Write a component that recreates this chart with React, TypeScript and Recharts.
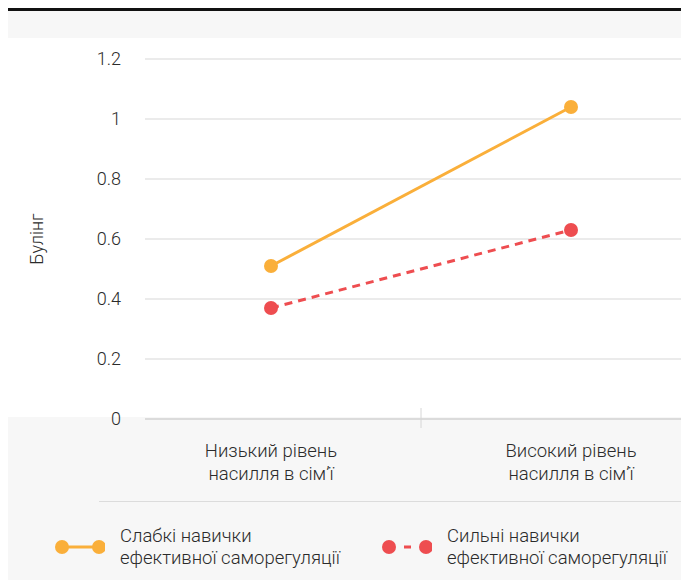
import React from "react";
import {
  LineChart,
  Line,
  XAxis,
  YAxis,
  CartesianGrid,
  Legend,
} from "recharts";

// categories on the x axis (two-line labels)
const categoryLabels: string[][] = [
  ["Низький рівень", "насилля в сім’ї"],
  ["Високий рівень", "насилля в сім’ї"],
];
const categoryPos = [0, 1];

const weakSkills = [0.51, 1.04];
const strongSkills = [0.37, 0.63];

const yTicks = [0, 0.2, 0.4, 0.6, 0.8, 1, 1.2];

const seriesNames = {
  weak: ["Слабкі навички", "ефективної саморегуляції"],
  strong: ["Сильні навички", "ефективної саморегуляції"],
};

const ORANGE = "#FAAF3A";
const RED = "#EE4D50";
const FONT = "Roboto, 'Noto Sans', sans-serif";
const TEXT = "#2b2b2b";
const FS = 18.5;
const FW = 300;

const data = categoryPos.map((x, i) => ({
  x,
  weak: weakSkills[i],
  strong: strongSkills[i],
}));

function XTick(props: any) {
  const { x, y, payload } = props;
  if (payload.value === 0.5) {
    return <line x1={x} x2={x} y1={y - 11} y2={y + 9} stroke="#d6d6d6" strokeWidth={1} />;
  }
  const idx = categoryPos.indexOf(payload.value);
  const lines = categoryLabels[idx] ?? [];
  return (
    <text x={x} y={y} textAnchor="middle" fill={TEXT} fontSize={FS} fontWeight={FW} fontFamily={FONT}>
      {lines.map((l, i) => (
        <tspan key={i} x={x} y={y + 38 + i * 23}>
          {l}
        </tspan>
      ))}
    </text>
  );
}

function LegendIcon({ color, dashed }: { color: string; dashed?: boolean }) {
  return (
    <svg width={52} height={18} style={{ display: "block" }}>
      <line
        x1={9}
        x2={46}
        y1={9}
        y2={9}
        stroke={color}
        strokeWidth={3}
        strokeDasharray={dashed ? "0 15 7 100" : undefined}
      />
      <circle cx={9} cy={9} r={7} fill={color} />
      <circle cx={46} cy={9} r={7} fill={color} />
    </svg>
  );
}

function LegendBlock() {
  const item = (lines: string[], color: string, dashed: boolean, w: number) => (
    <div style={{ display: "flex", alignItems: "center", width: w }}>
      <LegendIcon color={color} dashed={dashed} />
      <div style={{ marginLeft: 15, fontSize: FS, fontWeight: FW, lineHeight: "22px", color: TEXT }}>
        {lines.map((l, i) => (
          <div key={i}>{l}</div>
        ))}
      </div>
    </div>
  );
  return (
    <div style={{ height: 79, fontFamily: FONT, textAlign: "left" }}>
      <div style={{ marginLeft: 91, borderTop: "1px solid #dcdcdc" }} />
      <div style={{ display: "flex", paddingLeft: 45, paddingTop: 23 }}>
        {item(seriesNames.weak, ORANGE, false, 327)}
        {item(seriesNames.strong, RED, true, 300)}
      </div>
    </div>
  );
}

export default function App() {
  return (
    <div
      style={{
        width: 681,
        height: 569,
        borderTop: "3px solid #111",
        background: "linear-gradient(#f7f7f7 0 27px, #fff 27px 406px, #f7f7f7 406px)",
        fontFamily: FONT,
      }}
    >
      <LineChart width={681} height={569} data={data} margin={{ top: 48, right: 0, left: 0, bottom: 0 }}>
        <CartesianGrid vertical={false} stroke="#e4e4e4" strokeWidth={1.5} />
        <XAxis
          dataKey="x"
          type="number"
          domain={[0, 1]}
          ticks={[0, 0.5, 1]}
          interval={0}
          padding={{ left: 126, right: 118 }}
          height={82}
          axisLine={{ stroke: "#d6d6d6", strokeWidth: 1.5 }}
          tickLine={false}
          tickSize={0}
          tickMargin={0}
          tick={<XTick />}
        />
        <YAxis
          type="number"
          domain={[0, 1.2]}
          ticks={yTicks}
          width={137}
          axisLine={false}
          tickLine={false}
          tickSize={0}
          tickMargin={24}
          tick={{ fill: TEXT, fontSize: 18, fontWeight: FW, fontFamily: FONT }}
          label={{
            content: (p: any) => {
              const vb = p.viewBox;
              const cy = vb.y + vb.height / 2;
              return (
                <text
                  x={28}
                  y={cy}
                  textAnchor="middle"
                  dominantBaseline="central"
                  transform={`rotate(-90, 28, ${cy})`}
                  fill={TEXT}
                  fontSize={18}
                  fontWeight={FW}
                  fontFamily={FONT}
                >
                  Булінг
                </text>
              );
            },
          }}
        />
        <Legend verticalAlign="bottom" height={79} content={() => <LegendBlock />} />
        <Line
          dataKey="weak"
          stroke={ORANGE}
          strokeWidth={3}
          dot={{ r: 7, fill: ORANGE, stroke: "none" }}
          activeDot={false}
          isAnimationActive={false}
        />
        <Line
          dataKey="strong"
          stroke={RED}
          strokeWidth={3}
          strokeDasharray="8 6"
          dot={{ r: 7, fill: RED, stroke: "none", strokeDasharray: "" }}
          activeDot={false}
          isAnimationActive={false}
        />
      </LineChart>
    </div>
  );
}
